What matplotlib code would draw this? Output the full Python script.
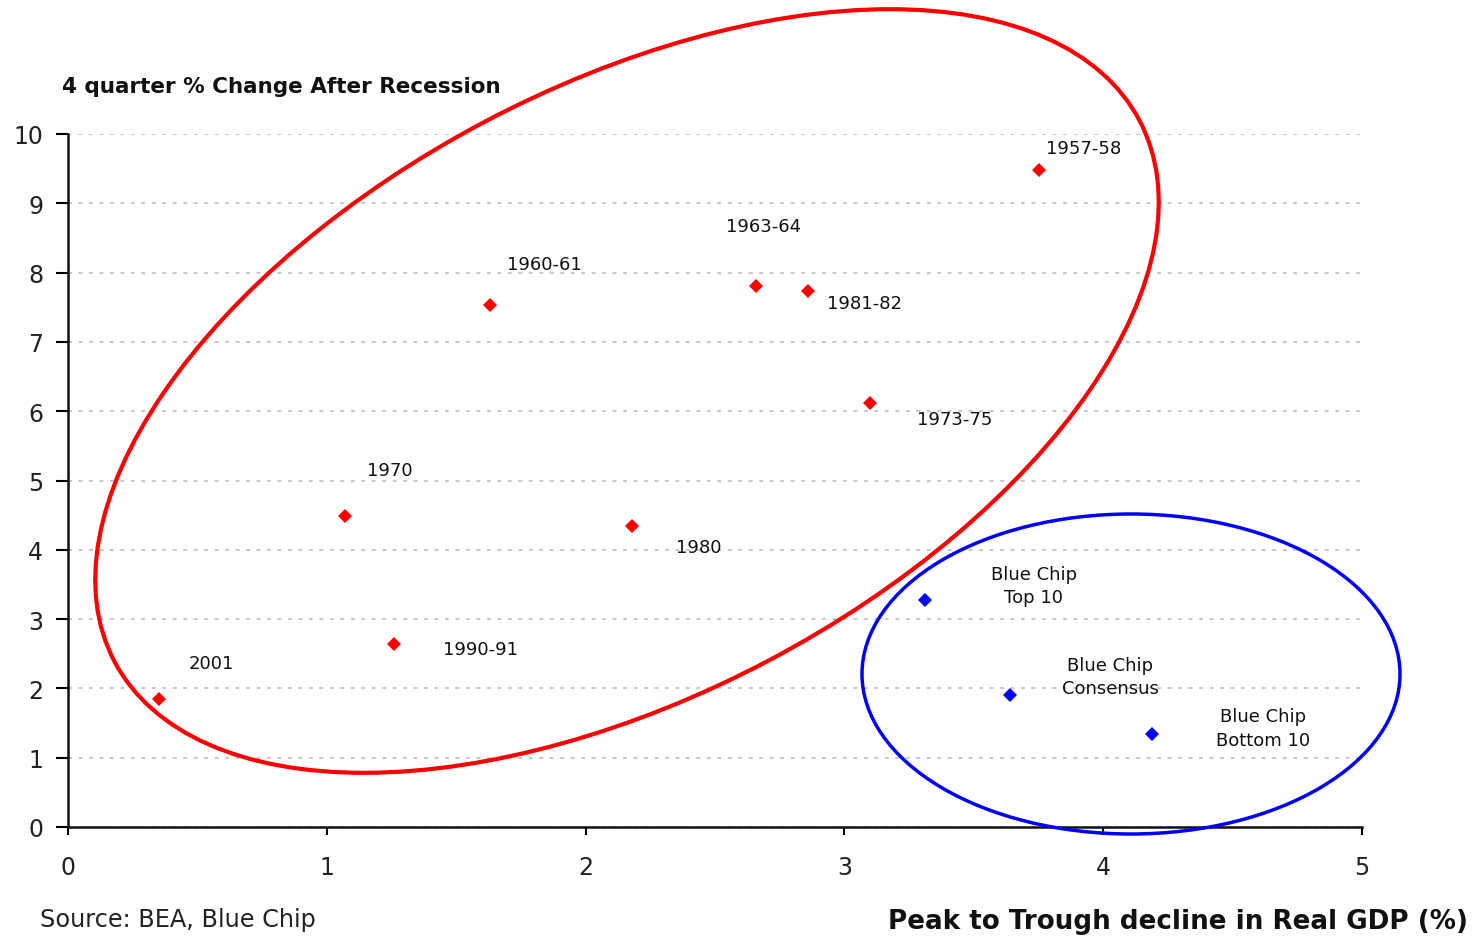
"""
Recessions: peak-to-trough GDP decline vs. growth in the 4 quarters after,
with the Blue Chip forecasts for the current recession circled separately.
"""
import matplotlib
matplotlib.use('Agg')
import matplotlib.pyplot as plt
from matplotlib.patches import Ellipse

# past recessions
recession_labels = ['2001', '1970', '1990-91', '1960-61', '1980',
                    '1963-64', '1981-82', '1973-75', '1957-58']
recession_decline = [0.35, 1.07, 1.26, 1.63, 2.18, 2.66, 2.86, 3.10, 3.75]
recession_rebound = [1.85, 4.49, 2.64, 7.53, 4.34, 7.81, 7.73, 6.12, 9.48]

# Blue Chip forecasts
forecast_labels = ['Blue Chip\nTop 10', 'Blue Chip\nConsensus', 'Blue Chip\nBottom 10']
forecast_decline = [3.31, 3.64, 4.19]
forecast_rebound = [3.28, 1.90, 1.34]

x_ticks = [0, 1, 2, 3, 4, 5]
y_ticks = [0, 1, 2, 3, 4, 5, 6, 7, 8, 9, 10]

# label offsets in pixels (dx, dy) from each marker
recession_offsets = [(30, 36), (22, 46), (49, -5), (17, 41), (44, -21),
                     (-30, 60), (19, -12), (47, -16), (8, 22)]
forecast_offsets = [(109, 14), (100, 19), (111, 6)]


def main():
    fig = plt.figure(figsize=(14.73, 9.37), dpi=100)
    ax = fig.add_axes([68 / 1473, 109 / 937, 1294 / 1473, 693 / 937])

    ax.plot(recession_decline, recession_rebound, 'D', color='#ff0000',
            markersize=7, markeredgewidth=0, clip_on=False, zorder=3)
    ax.plot(forecast_decline, forecast_rebound, 'D', color='#0000ff',
            markersize=7, markeredgewidth=0, clip_on=False, zorder=3)

    for lab, x, y, off in zip(recession_labels, recession_decline,
                              recession_rebound, recession_offsets):
        ax.annotate(lab, (x, y), xytext=off, textcoords='offset pixels',
                    ha='left', va='center', fontsize=13, color='#111111')
    for lab, x, y, off in zip(forecast_labels, forecast_decline,
                              forecast_rebound, forecast_offsets):
        ax.annotate(lab, (x, y), xytext=off, textcoords='offset pixels',
                    ha='center', va='center', fontsize=13, color='#111111',
                    linespacing=1.4)

    ax.set_xlim(0, 5)
    ax.set_ylim(0, 10)
    ax.set_xticks(x_ticks)
    ax.set_yticks(y_ticks)
    ax.tick_params(axis='x', length=6, width=1.5, pad=14, labelsize=17,
                   labelcolor='#222222')
    ax.tick_params(axis='y', length=9, width=1.5, pad=9, labelsize=17,
                   labelcolor='#222222')

    ax.grid(axis='y', color='#c4c4c4', linestyle=(0, (2.2, 3.6)), linewidth=1.3)
    ax.set_axisbelow(True)
    for side in ['top', 'right']:
        ax.spines[side].set_visible(False)
    for side in ['left', 'bottom']:
        ax.spines[side].set_linewidth(1.8)
        ax.spines[side].set_color('#111111')

    # highlight rings, drawn in figure inches so they can leave the axes
    fig.add_artist(Ellipse((6.27, 5.45), 11.59, 6.09, angle=27.85,
                           fill=False, edgecolor='#ff0000', linewidth=3,
                           transform=fig.dpi_scale_trans, zorder=4))
    fig.add_artist(Ellipse((11.31, 2.62), 5.38, 3.20, angle=0,
                           fill=False, edgecolor='#0000ff', linewidth=2.5,
                           transform=fig.dpi_scale_trans, zorder=4))

    fig.text(62 / 1473, 1 - 87 / 937, '4 quarter % Change After Recession',
             ha='left', va='center', fontsize=15.5, fontweight='bold',
             color='#111111')
    fig.text(1468 / 1473, 1 - 922 / 937, 'Peak to Trough decline in Real GDP (%)',
             ha='right', va='center', fontsize=18.8, fontweight='bold',
             color='#111111')
    fig.text(40 / 1473, 1 - 920 / 937, 'Source: BEA, Blue Chip',
             ha='left', va='center', fontsize=17.3, color='#222222')

    fig.savefig('out.png', dpi=100)


if __name__ == '__main__':
    main()
